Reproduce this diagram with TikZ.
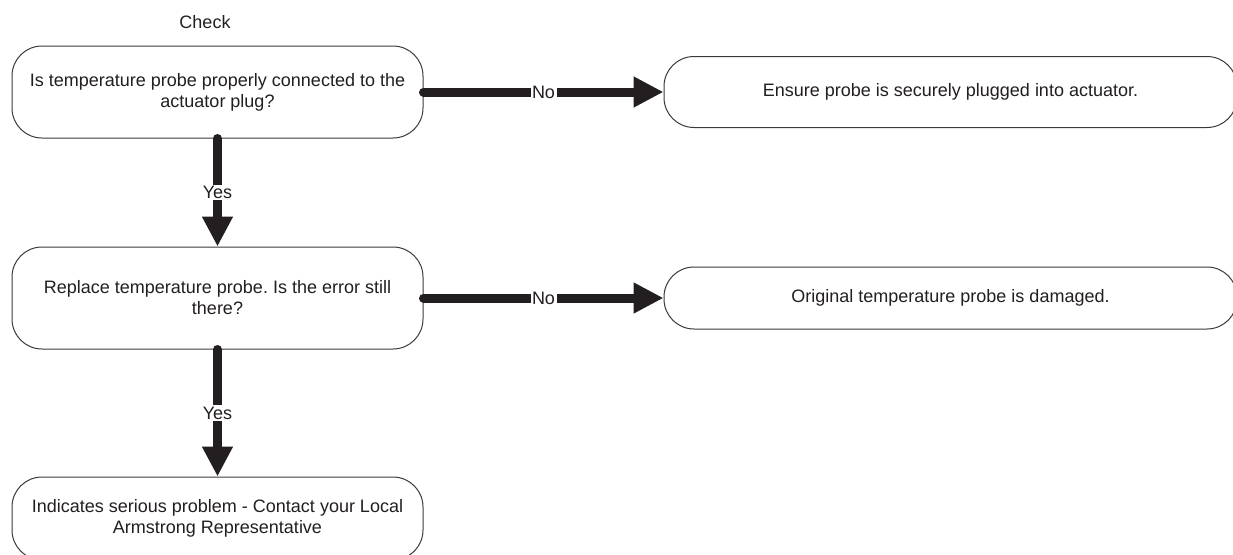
\documentclass[tikz,border=0pt]{standalone}
\usepackage{fontspec}
\setmainfont{Liberation Sans}
\usetikzlibrary{arrows.meta}
\definecolor{ink}{HTML}{231F20}
\definecolor{edgegray}{HTML}{3A3A3A}
\frenchspacing
\begin{document}
\begin{tikzpicture}[x=1pt,y=-1pt,
  txt/.style={font=\fontsize{18}{21}\selectfont\frenchspacing, text=ink},
  box/.style={txt, draw=edgegray, line width=1pt, rounded corners=30pt, align=center, inner sep=0pt},
  lbox/.style={box, minimum width=411pt},
  rbox/.style={box, minimum width=573pt},
  arr/.style={draw=ink, line width=9pt, line cap=round, -{Triangle[length=30pt,width=29pt]}},
  lab/.style={txt, fill=white, inner sep=1.5pt}]
\useasboundingbox (0,0) rectangle (1233,554);
\clip (0,0) rectangle (1233,554);
\fill[white] (0,0) rectangle (1233,554);
\node[txt] (chk) at (205,22) {Check};
\node[lbox, minimum height=92pt] (b1) at (217.5,92) {Is temperature probe properly connected to the\\actuator plug?};
\node[lbox, minimum height=102pt] (b2) at (217.5,298) {Replace temperature probe. Is the error still\\there?};
\node[lbox, minimum height=83pt] (b3) at (217.5,518.5) {Indicates serious problem - Contact your Local\\Armstrong Representative};
\node[rbox, minimum height=71pt] (r1) at (950.5,92) {Ensure probe is securely plugged into actuator.};
\node[rbox, minimum height=62pt] (r2) at (950.5,298) {Original temperature probe is damaged.};
\draw[arr] (b1.east) -- node[lab] {No} (r1.west);
\draw[arr] (b2.east) -- node[lab] {No} (r2.west);
\draw[arr] (b1.south) -- node[lab] {Yes} (b2.north);
\draw[arr] (b2.south) -- node[lab] {Yes} (b3.north);
\end{tikzpicture}
\end{document}
